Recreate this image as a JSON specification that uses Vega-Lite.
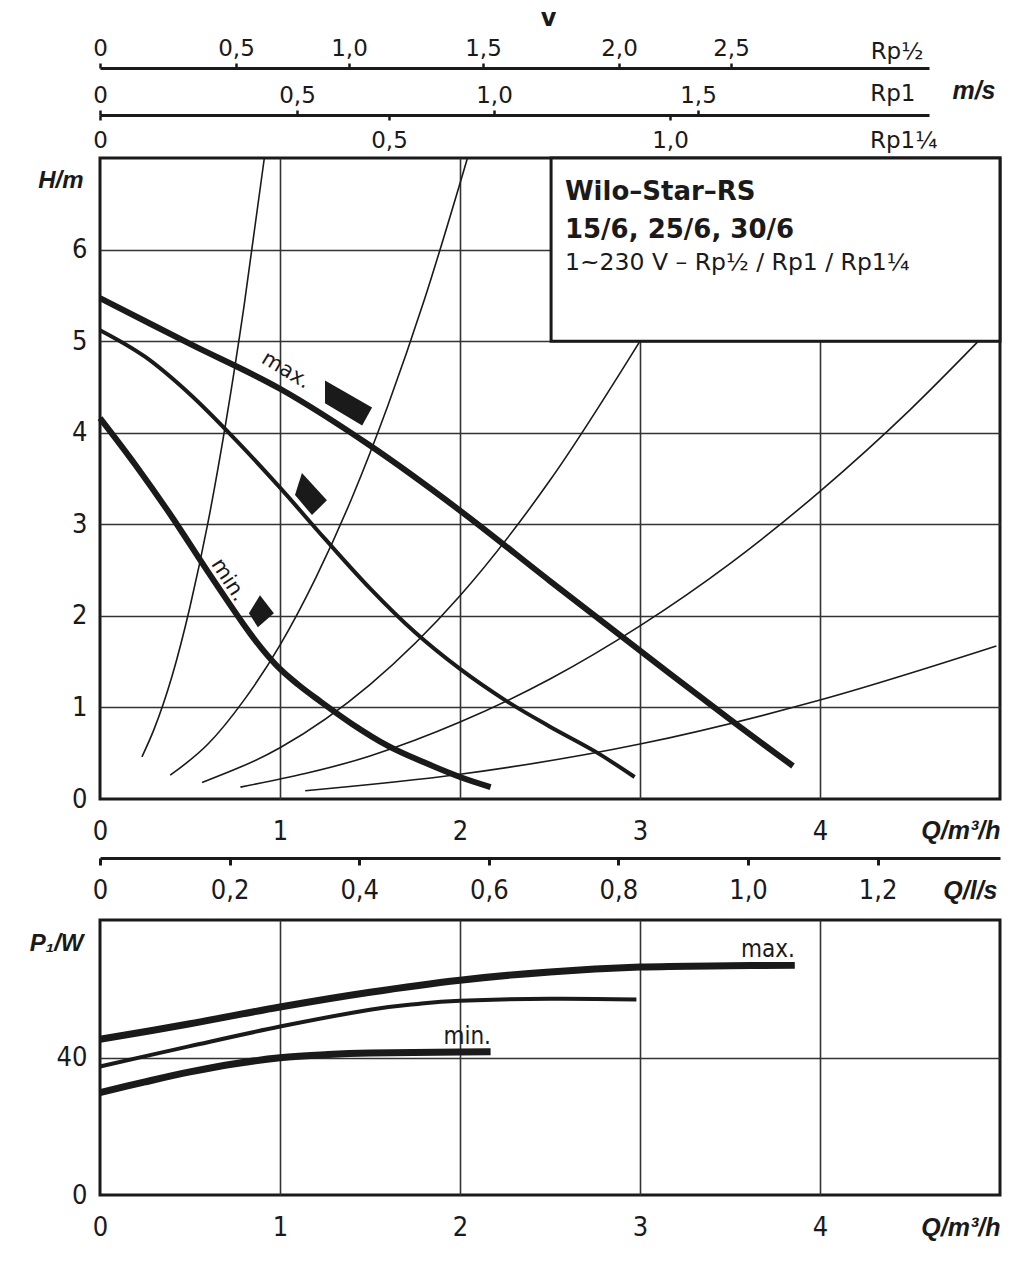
{
  "$schema": "https://vega.github.io/schema/vega-lite/v6.json",
  "autosize": "none",
  "padding": {"left": 100, "top": 68, "right": 911, "bottom": 1212},
  "background": "white",
  "bounds": "flush",
  "spacing": 0,
  "config": {
    "view": {"stroke": null},
    "axis": {"labelColor": "#1a1a1a", "titleColor": "#1a1a1a", "domainColor": "#1a1a1a", "tickColor": "#1a1a1a", "gridColor": "#333333"}
  },
  "vconcat": [
    {
      "width": 900,
      "height": 47,
      "data": {"values": [{"v": 0}, {"v": 0.5}, {"v": 1}, {"v": 1.5}, {"v": 2}, {"v": 2.5}]},
      "resolve": {"scale": {"x": "shared"}, "axis": {"x": "independent"}},
      "layer": [
        {
          "mark": {"type": "point", "opacity": 0},
          "encoding": {
            "x": {
              "field": "v", "type": "quantitative",
              "scale": {"domain": [0, 0.5, 1, 1.5, 2, 2.5, 3.3], "range": [0, 136, 249, 383, 519, 631, 829], "nice": false, "zero": false},
              "axis": {
                "orient": "top", "values": [0, 0.5, 1, 1.5, 2, 2.5],
                "labelExpr": "datum.value === 0 ? '0' : replace(format(datum.value, '.1f'), '.', ',')",
                "domainWidth": 3, "tickWidth": 2.5, "tickSize": 5, "labelPadding": 8, "labelBaseline": "alphabetic",
                "labelFont": "DejaVu Sans", "labelFontSize": 23, "labelFlush": false, "labelOverlap": false, "grid": false,
                "title": "Rp½", "titleX": 823, "titleY": -10, "titleAlign": "right", "titleBaseline": "alphabetic",
                "titleFont": "DejaVu Sans", "titleFontSize": 23, "titleFontWeight": "normal"
              }
            },
            "y": {"datum": 0, "type": "quantitative", "scale": {"domain": [0, 1]}, "axis": null}
          }
        },
        {
          "mark": {"type": "point", "opacity": 0},
          "encoding": {
            "x": {
              "field": "v", "type": "quantitative",
              "axis": {
                "orient": "bottom", "domain": false, "ticks": false, "labels": false, "grid": false,
                "title": "v", "titleX": 448, "titleY": -90, "titleAlign": "center", "titleBaseline": "alphabetic",
                "titleFont": "DejaVu Sans", "titleFontSize": 24, "titleFontWeight": "bold"
              }
            },
            "y": {"datum": 0, "type": "quantitative", "scale": {"domain": [0, 1]}, "axis": null}
          }
        }
      ]
    },
    {
      "width": 900,
      "height": 43,
      "resolve": {"scale": {"x": "independent"}, "axis": {"x": "independent"}},
      "layer": [
        {
          "data": {"values": [{"v": 0}, {"v": 0.5}, {"v": 1}, {"v": 1.5}]},
          "mark": {"type": "point", "opacity": 0},
          "encoding": {
            "x": {
              "field": "v", "type": "quantitative",
              "scale": {"domain": [0, 0.5, 1, 1.5, 2.08], "range": [0, 197, 394, 598, 829], "nice": false, "zero": false},
              "axis": {
                "orient": "top", "values": [0, 0.5, 1, 1.5],
                "labelExpr": "datum.value === 0 ? '0' : replace(format(datum.value, '.1f'), '.', ',')",
                "domainWidth": 3, "tickWidth": 2.5, "tickSize": 5, "labelPadding": 8, "labelBaseline": "alphabetic",
                "labelFont": "DejaVu Sans", "labelFontSize": 23, "labelFlush": false, "labelOverlap": false, "grid": false,
                "title": "Rp1", "titleX": 815, "titleY": -15, "titleAlign": "right", "titleBaseline": "alphabetic",
                "titleFont": "DejaVu Sans", "titleFontSize": 23, "titleFontWeight": "normal"
              }
            },
            "y": {"datum": 0, "type": "quantitative", "scale": {"domain": [0, 1]}, "axis": null}
          }
        },
        {
          "data": {"values": [{"v": 0}, {"v": 0.5}, {"v": 1}]},
          "mark": {"type": "point", "opacity": 0},
          "encoding": {
            "x": {
              "field": "v", "type": "quantitative",
              "scale": {"domain": [0, 0.5, 1, 1.455], "range": [0, 289, 570, 829], "nice": false, "zero": false},
              "axis": {
                "orient": "bottom", "offset": -43, "values": [0, 0.5, 1],
                "labelExpr": "datum.value === 0 ? '0' : replace(format(datum.value, '.1f'), '.', ',')",
                "domain": false, "tickWidth": 2.5, "tickSize": 5, "labelPadding": 27, "labelBaseline": "alphabetic",
                "labelFont": "DejaVu Sans", "labelFontSize": 23, "labelFlush": false, "labelOverlap": false, "grid": false,
                "title": "Rp1¼", "titleX": 837, "titleY": 32, "titleAlign": "right", "titleBaseline": "alphabetic",
                "titleFont": "DejaVu Sans", "titleFontSize": 23, "titleFontWeight": "normal"
              }
            },
            "y": {"datum": 0, "type": "quantitative", "scale": {"domain": [0, 1]}, "axis": null}
          }
        },
        {
          "data": {"values": [{"v": 0}, {"v": 0.5}, {"v": 1}, {"v": 1.5}]},
          "mark": {"type": "point", "opacity": 0},
          "encoding": {
            "x": {
              "field": "v", "type": "quantitative",
              "scale": {"domain": [0, 2.08], "nice": false, "zero": false},
              "axis": {
                "orient": "bottom", "domain": false, "ticks": false, "labels": false, "grid": false,
                "title": "m/s", "titleX": 895, "titleY": -60, "titleAlign": "right", "titleBaseline": "alphabetic",
                "titleFont": "Liberation Sans", "titleFontSize": 25, "titleFontWeight": "bold", "titleFontStyle": "italic"
              }
            },
            "y": {"datum": 0, "type": "quantitative", "scale": {"domain": [0, 1]}, "axis": null}
          }
        }
      ]
    },
    {
      "width": 900,
      "height": 641,
      "view": {"stroke": "#1a1a1a", "strokeWidth": 3},
      "layer": [
        {
          "data": {"values": [
            {"c": "s1", "Q": 0.233, "H": 0.46}, {"c": "s1", "Q": 0.3, "H": 0.76}, {"c": "s1", "Q": 0.4, "H": 1.34}, {"c": "s1", "Q": 0.5, "H": 2.1}, {"c": "s1", "Q": 0.6, "H": 3.02}, {"c": "s1", "Q": 0.7, "H": 4.12}, {"c": "s1", "Q": 0.8, "H": 5.38}, {"c": "s1", "Q": 0.913, "H": 7.0},
            {"c": "s2", "Q": 0.39, "H": 0.26}, {"c": "s2", "Q": 0.6, "H": 0.6}, {"c": "s2", "Q": 0.8, "H": 1.08}, {"c": "s2", "Q": 1.0, "H": 1.68}, {"c": "s2", "Q": 1.2, "H": 2.42}, {"c": "s2", "Q": 1.4, "H": 3.29}, {"c": "s2", "Q": 1.6, "H": 4.3}, {"c": "s2", "Q": 1.8, "H": 5.44}, {"c": "s2", "Q": 2.04, "H": 6.99},
            {"c": "s3", "Q": 0.567, "H": 0.18}, {"c": "s3", "Q": 1.0, "H": 0.56}, {"c": "s3", "Q": 1.5, "H": 1.25}, {"c": "s3", "Q": 2.0, "H": 2.22}, {"c": "s3", "Q": 2.5, "H": 3.48}, {"c": "s3", "Q": 3.0, "H": 5.0},
            {"c": "s4", "Q": 0.78, "H": 0.13}, {"c": "s4", "Q": 1.5, "H": 0.47}, {"c": "s4", "Q": 2.0, "H": 0.84}, {"c": "s4", "Q": 2.5, "H": 1.31}, {"c": "s4", "Q": 3.0, "H": 1.89}, {"c": "s4", "Q": 3.5, "H": 2.57}, {"c": "s4", "Q": 4.0, "H": 3.36}, {"c": "s4", "Q": 4.5, "H": 4.25}, {"c": "s4", "Q": 4.88, "H": 5.0},
            {"c": "s5", "Q": 1.14, "H": 0.09}, {"c": "s5", "Q": 2.0, "H": 0.27}, {"c": "s5", "Q": 3.0, "H": 0.6}, {"c": "s5", "Q": 4.0, "H": 1.08}, {"c": "s5", "Q": 4.98, "H": 1.67}
          ]},
          "mark": {"type": "line", "color": "#1a1a1a", "strokeWidth": 1.6, "interpolate": "monotone"},
          "encoding": {
            "x": {
              "field": "Q", "type": "quantitative",
              "scale": {"domain": [0, 5], "nice": false, "zero": false},
              "axis": {
                "orient": "bottom", "values": [0, 1, 2, 3, 4], "format": "d",
                "domain": false, "ticks": false, "tickSize": 0, "labelPadding": 40, "labelBaseline": "alphabetic",
                "labelFont": "Liberation Sans Narrow, DejaVu Sans Condensed, Liberation Sans, sans-serif", "labelFontSize": 27,
                "labelFlush": false, "labelOverlap": false,
                "grid": true, "gridColor": "#333333", "gridWidth": 1.6,
                "gridOpacity": {"condition": {"test": "datum.value === 0", "value": 0}, "value": 1},
                "title": "Q/m³/h", "titleX": 900, "titleY": 39, "titleAlign": "right", "titleBaseline": "alphabetic",
                "titleFont": "Liberation Sans", "titleFontSize": 25, "titleFontWeight": "bold", "titleFontStyle": "italic"
              }
            },
            "y": {
              "field": "H", "type": "quantitative",
              "scale": {"domain": [0, 7], "nice": false, "zero": false},
              "axis": {
                "values": [0, 1, 2, 3, 4, 5, 6], "format": "d",
                "domain": false, "ticks": false, "tickSize": 0, "labelPadding": 13,
                "labelFont": "Liberation Sans Narrow, DejaVu Sans Condensed, Liberation Sans, sans-serif", "labelFontSize": 27,
                "labelFlush": false, "labelOverlap": false,
                "grid": true, "gridColor": "#333333", "gridWidth": 1.6,
                "gridOpacity": {"condition": {"test": "datum.value === 0", "value": 0}, "value": 1},
                "title": "H/m", "titleAngle": 0, "titleX": -17, "titleY": 29, "titleAlign": "right", "titleBaseline": "alphabetic",
                "titleFont": "Liberation Sans", "titleFontSize": 24, "titleFontWeight": "bold", "titleFontStyle": "italic"
              }
            },
            "detail": {"field": "c", "type": "nominal"}
          }
        },
        {
          "data": {"values": [
            {"c": "max", "Q": 0, "H": 5.47}, {"c": "max", "Q": 0.5, "H": 4.97}, {"c": "max", "Q": 1.0, "H": 4.48}, {"c": "max", "Q": 1.5, "H": 3.86}, {"c": "max", "Q": 2.0, "H": 3.15}, {"c": "max", "Q": 2.5, "H": 2.38}, {"c": "max", "Q": 3.0, "H": 1.62}, {"c": "max", "Q": 3.5, "H": 0.87}, {"c": "max", "Q": 3.85, "H": 0.36},
            {"c": "min", "Q": 0, "H": 4.16}, {"c": "min", "Q": 0.2, "H": 3.64}, {"c": "min", "Q": 0.4, "H": 3.08}, {"c": "min", "Q": 0.6, "H": 2.48}, {"c": "min", "Q": 0.8, "H": 1.9}, {"c": "min", "Q": 0.9, "H": 1.64}, {"c": "min", "Q": 1.0, "H": 1.42}, {"c": "min", "Q": 1.1, "H": 1.25}, {"c": "min", "Q": 1.2, "H": 1.1}, {"c": "min", "Q": 1.4, "H": 0.82}, {"c": "min", "Q": 1.6, "H": 0.58}, {"c": "min", "Q": 1.8, "H": 0.4}, {"c": "min", "Q": 2.0, "H": 0.24}, {"c": "min", "Q": 2.17, "H": 0.13}
          ]},
          "mark": {"type": "line", "color": "#1a1a1a", "strokeWidth": 6, "interpolate": "cardinal"},
          "encoding": {
            "x": {"field": "Q", "type": "quantitative"},
            "y": {"field": "H", "type": "quantitative"},
            "detail": {"field": "c", "type": "nominal"}
          }
        },
        {
          "data": {"values": [
            {"c": "mid", "Q": 0, "H": 5.12}, {"c": "mid", "Q": 0.25, "H": 4.83}, {"c": "mid", "Q": 0.5, "H": 4.42}, {"c": "mid", "Q": 0.75, "H": 3.93}, {"c": "mid", "Q": 1.0, "H": 3.4}, {"c": "mid", "Q": 1.25, "H": 2.84}, {"c": "mid", "Q": 1.5, "H": 2.3}, {"c": "mid", "Q": 1.75, "H": 1.82}, {"c": "mid", "Q": 2.0, "H": 1.42}, {"c": "mid", "Q": 2.25, "H": 1.08}, {"c": "mid", "Q": 2.5, "H": 0.79}, {"c": "mid", "Q": 2.75, "H": 0.52}, {"c": "mid", "Q": 2.97, "H": 0.24}
          ]},
          "mark": {"type": "line", "color": "#1a1a1a", "strokeWidth": 4, "interpolate": "cardinal"},
          "encoding": {
            "x": {"field": "Q", "type": "quantitative"},
            "y": {"field": "H", "type": "quantitative"}
          }
        },
        {
          "data": {"values": [{"q1": 2.506, "q2": 5, "h1": 5.0, "h2": 7}]},
          "mark": {"type": "rect", "fill": "white", "stroke": "#1a1a1a", "strokeWidth": 3},
          "encoding": {
            "x": {"field": "q1", "type": "quantitative"},
            "x2": {"field": "q2"},
            "y": {"field": "h1", "type": "quantitative"},
            "y2": {"field": "h2"}
          }
        },
        {
          "data": {"values": [{"t": "Wilo–Star–RS", "Q": 2.583, "H": 6.54}, {"t": "15/6, 25/6, 30/6", "Q": 2.583, "H": 6.13}]},
          "mark": {"type": "text", "align": "left", "baseline": "alphabetic", "font": "DejaVu Sans", "fontSize": 26, "fontWeight": "bold", "color": "#1a1a1a"},
          "encoding": {
            "x": {"field": "Q", "type": "quantitative"},
            "y": {"field": "H", "type": "quantitative"},
            "text": {"field": "t"}
          }
        },
        {
          "data": {"values": [{"t": "1~230 V – Rp½ / Rp1 / Rp1¼", "Q": 2.583, "H": 5.78}]},
          "mark": {"type": "text", "align": "left", "baseline": "alphabetic", "font": "DejaVu Sans", "fontSize": 23.5, "color": "#1a1a1a"},
          "encoding": {
            "x": {"field": "Q", "type": "quantitative"},
            "y": {"field": "H", "type": "quantitative"},
            "text": {"field": "t"}
          }
        },
        {
          "data": {"values": [{"lvl": "max", "Q": 1.367, "H": 4.31}, {"lvl": "mid", "Q": 1.172, "H": 3.33}, {"lvl": "min", "Q": 0.894, "H": 2.05}]},
          "mark": {"type": "point", "filled": true, "color": "#1a1a1a", "opacity": 1, "strokeWidth": 0},
          "encoding": {
            "x": {"field": "Q", "type": "quantitative"},
            "y": {"field": "H", "type": "quantitative"},
            "shape": {"field": "lvl", "type": "nominal", "legend": null, "scale": {"domain": ["max", "mid", "min"], "range": ["M-0.81,-0.92L1,0.12L0.62,0.81L-0.81,-0.04Z", "M-0.43,-1L0.76,0.29L0.05,1L-0.76,0.05Z", "M-0.06,-1L0.81,0.13L-0.19,1L-0.75,0.13Z"]}},
            "size": {"field": "lvl", "type": "nominal", "legend": null, "scale": {"type": "ordinal", "domain": ["max", "mid", "min"], "range": [2704, 1764, 1024]}}
          }
        },
        {
          "data": {"values": [{"t": "max.", "Q": 1.032, "H": 4.68}]},
          "mark": {"type": "text", "align": "center", "baseline": "middle", "angle": 31, "font": "DejaVu Sans", "fontSize": 21, "color": "#1a1a1a"},
          "encoding": {
            "x": {"field": "Q", "type": "quantitative"},
            "y": {"field": "H", "type": "quantitative"},
            "text": {"field": "t"}
          }
        },
        {
          "data": {"values": [{"t": "min.", "Q": 0.713, "H": 2.39}]},
          "mark": {"type": "text", "align": "center", "baseline": "middle", "angle": 57, "font": "DejaVu Sans", "fontSize": 21, "color": "#1a1a1a"},
          "encoding": {
            "x": {"field": "Q", "type": "quantitative"},
            "y": {"field": "H", "type": "quantitative"},
            "text": {"field": "t"}
          }
        }
      ]
    },
    {
      "width": 900,
      "height": 121,
      "data": {"values": [{"qls": 0}, {"qls": 0.2}, {"qls": 0.4}, {"qls": 0.6}, {"qls": 0.8}, {"qls": 1.0}, {"qls": 1.2}]},
      "mark": {"type": "point", "opacity": 0},
      "encoding": {
        "x": {
          "field": "qls", "type": "quantitative",
          "scale": {"domain": [0, 1.38889], "nice": false, "zero": false},
          "axis": {
            "orient": "bottom", "offset": -62, "values": [0, 0.2, 0.4, 0.6, 0.8, 1.0, 1.2],
            "labelExpr": "datum.value === 0 ? '0' : replace(format(datum.value, '.1f'), '.', ',')",
            "domainWidth": 3, "tickWidth": 3, "tickSize": 7, "labelPadding": 33, "labelBaseline": "alphabetic",
            "labelFont": "Liberation Sans Narrow, DejaVu Sans Condensed, Liberation Sans, sans-serif", "labelFontSize": 27,
            "labelFlush": false, "labelOverlap": false, "grid": false,
            "title": "Q/l/s", "titleX": 897, "titleY": 40, "titleAlign": "right", "titleBaseline": "alphabetic",
            "titleFont": "Liberation Sans", "titleFontSize": 25, "titleFontWeight": "bold", "titleFontStyle": "italic"
          }
        },
        "y": {"datum": 0, "type": "quantitative", "scale": {"domain": [0, 1]}, "axis": null}
      }
    },
    {
      "width": 900,
      "height": 275,
      "view": {"stroke": "#1a1a1a", "strokeWidth": 3},
      "layer": [
        {
          "data": {"values": [
            {"c": "max", "Q": 0, "P": 45.3}, {"c": "max", "Q": 0.5, "P": 49.8}, {"c": "max", "Q": 1.0, "P": 54.7}, {"c": "max", "Q": 1.5, "P": 59.0}, {"c": "max", "Q": 2.0, "P": 62.5}, {"c": "max", "Q": 2.5, "P": 64.9}, {"c": "max", "Q": 3.0, "P": 66.3}, {"c": "max", "Q": 3.5, "P": 66.7}, {"c": "max", "Q": 3.86, "P": 66.8},
            {"c": "min", "Q": 0, "P": 29.8}, {"c": "min", "Q": 0.25, "P": 32.9}, {"c": "min", "Q": 0.5, "P": 35.8}, {"c": "min", "Q": 0.75, "P": 38.2}, {"c": "min", "Q": 1.0, "P": 39.9}, {"c": "min", "Q": 1.25, "P": 40.8}, {"c": "min", "Q": 1.5, "P": 41.3}, {"c": "min", "Q": 2.0, "P": 41.6}, {"c": "min", "Q": 2.17, "P": 41.7}
          ]},
          "mark": {"type": "line", "color": "#1a1a1a", "strokeWidth": 7, "interpolate": "cardinal"},
          "encoding": {
            "x": {
              "field": "Q", "type": "quantitative",
              "scale": {"domain": [0, 5], "nice": false, "zero": false},
              "axis": {
                "orient": "bottom", "values": [0, 1, 2, 3, 4], "format": "d",
                "domain": false, "ticks": false, "tickSize": 0, "labelPadding": 40, "labelBaseline": "alphabetic",
                "labelFont": "Liberation Sans Narrow, DejaVu Sans Condensed, Liberation Sans, sans-serif", "labelFontSize": 27,
                "labelFlush": false, "labelOverlap": false,
                "grid": true, "gridColor": "#333333", "gridWidth": 1.6,
                "gridOpacity": {"condition": {"test": "datum.value === 0", "value": 0}, "value": 1},
                "title": "Q/m³/h", "titleX": 900, "titleY": 40, "titleAlign": "right", "titleBaseline": "alphabetic",
                "titleFont": "Liberation Sans", "titleFontSize": 25, "titleFontWeight": "bold", "titleFontStyle": "italic"
              }
            },
            "y": {
              "field": "P", "type": "quantitative",
              "scale": {"domain": [0, 80], "nice": false, "zero": false},
              "axis": {
                "values": [0, 40], "format": "d",
                "domain": false, "ticks": false, "tickSize": 0, "labelPadding": 13,
                "labelFont": "Liberation Sans Narrow, DejaVu Sans Condensed, Liberation Sans, sans-serif", "labelFontSize": 27,
                "labelFlush": false, "labelOverlap": false,
                "grid": true, "gridColor": "#333333", "gridWidth": 1.6,
                "gridOpacity": {"condition": {"test": "datum.value === 0", "value": 0}, "value": 1},
                "title": "P₁/W", "titleAngle": 0, "titleX": -17, "titleY": 30, "titleAlign": "right", "titleBaseline": "alphabetic",
                "titleFont": "Liberation Sans", "titleFontSize": 24, "titleFontWeight": "bold", "titleFontStyle": "italic"
              }
            },
            "detail": {"field": "c", "type": "nominal"}
          }
        },
        {
          "data": {"values": [
            {"c": "mid", "Q": 0, "P": 37.4}, {"c": "mid", "Q": 0.5, "P": 43.3}, {"c": "mid", "Q": 1.0, "P": 49.0}, {"c": "mid", "Q": 1.5, "P": 53.9}, {"c": "mid", "Q": 1.75, "P": 55.5}, {"c": "mid", "Q": 2.0, "P": 56.5}, {"c": "mid", "Q": 2.5, "P": 57.1}, {"c": "mid", "Q": 2.98, "P": 56.9}
          ]},
          "mark": {"type": "line", "color": "#1a1a1a", "strokeWidth": 4, "interpolate": "cardinal"},
          "encoding": {
            "x": {"field": "Q", "type": "quantitative"},
            "y": {"field": "P", "type": "quantitative"}
          }
        },
        {
          "data": {"values": [{"t": "max.", "Q": 3.86, "P": 69.2}, {"t": "min.", "Q": 2.172, "P": 43.8}]},
          "mark": {"type": "text", "align": "right", "baseline": "alphabetic", "font": "Liberation Sans Narrow, DejaVu Sans Condensed, Liberation Sans, sans-serif", "fontSize": 24, "color": "#1a1a1a"},
          "encoding": {
            "x": {"field": "Q", "type": "quantitative"},
            "y": {"field": "P", "type": "quantitative"},
            "text": {"field": "t"}
          }
        }
      ]
    }
  ]
}
